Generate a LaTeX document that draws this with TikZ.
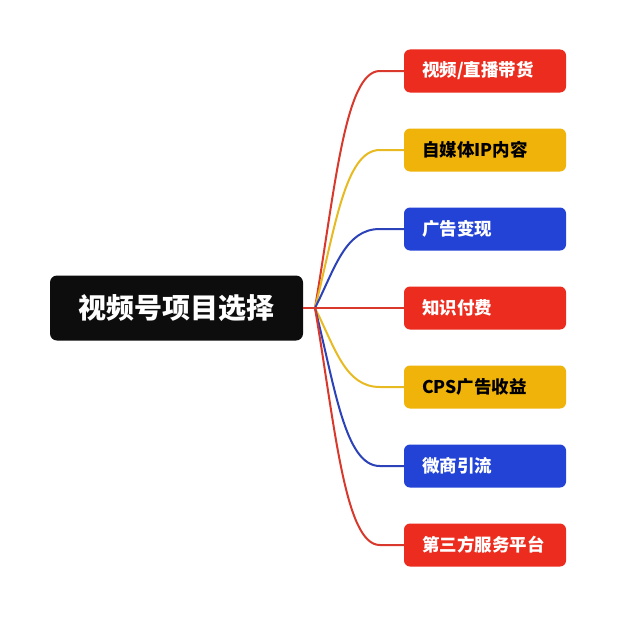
\documentclass[tikz,border=0pt]{standalone}
\usepackage{fontspec}
\usetikzlibrary{calc}
\newfontfamily\cjk{Noto Sans CJK SC Black}
\definecolor{rootbg}{HTML}{0D0D0D}
\definecolor{bred}{HTML}{EB2C1E}
\definecolor{byel}{HTML}{F0B30A}
\definecolor{bblue}{HTML}{2343D6}
\definecolor{lred}{HTML}{D8392C}
\definecolor{lyel}{HTML}{E8BA22}
\definecolor{lblue}{HTML}{2C42B8}
\tikzset{
  rootbox/.style={fill=rootbg, rounded corners=7pt, minimum width=253pt, minimum height=65pt, inner sep=0pt, text=white, font=\cjk\fontsize{28}{30}\selectfont},
  branch/.style={rounded corners=6pt, minimum width=162pt, minimum height=43pt, inner sep=0pt, text width=126pt, align=left, font=\cjk\fontsize{17.5}{20}\selectfont},
  redb/.style={branch, fill=bred, text=white},
  yelb/.style={branch, fill=byel, text=black},
  blueb/.style={branch, fill=bblue, text=white},
  link/.style={line width=2pt}
}
\begin{document}
\begin{tikzpicture}[x=1pt,y=-1pt]
\useasboundingbox[fill=white] (0,0) rectangle (616,618);
\node[rootbox] (root) at (176.5,308) {视频号项目选择};
\coordinate (J) at (315,308);
\node[redb]  (b1) at (485,71)  {视频/直播带货};
\node[yelb]  (b2) at (485,150) {自媒体IP内容};
\node[blueb] (b3) at (485,229) {广告变现};
\node[redb]  (b4) at (485,308) {知识付费};
\node[yelb]  (b5) at (485,387) {CPS广告收益};
\node[blueb] (b6) at (485,466) {微商引流};
\node[redb]  (b7) at (485,545) {第三方服务平台};
\foreach \n/\c in {b1/lred,b2/lyel,b3/lblue,b5/lyel,b6/lblue,b7/lred}{
  \path (\n.west) ++(-24,0) coordinate (\n e);
  \draw[link,\c] (J) .. controls ($(J)!0.5!(J |- \n e)+(20,0)$) and ($(J |- \n e)+(30,0)$) .. (\n e) -- (\n.west);
}
\draw[link,lred] (root.east) -- (b4.west);
\end{tikzpicture}
\end{document}
